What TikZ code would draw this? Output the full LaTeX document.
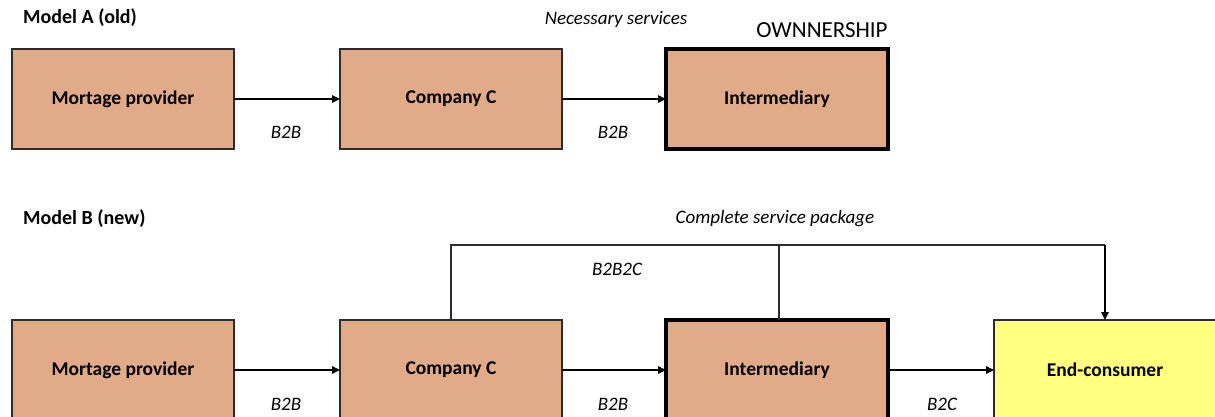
\documentclass[tikz,border=0pt]{standalone}
\usepackage{fontspec}
\setmainfont{Carlito}
\usetikzlibrary{arrows.meta}
\definecolor{tan}{RGB}{225,170,136}
\definecolor{lemon}{RGB}{255,255,128}
\definecolor{edge}{RGB}{45,45,45}
\tikzset{
  box/.style={draw=edge, line width=1.2pt, fill=tan, minimum width=222pt, minimum height=100pt,
    inner sep=0pt, outer sep=0pt, font=\fontsize{19.5}{22}\selectfont\bfseries},
  owner/.style={line width=4pt, draw=black},
  consumer/.style={fill=lemon},
  link/.style={draw=black, line width=1.2pt, -{Triangle[length=8pt,width=7.5pt]}},
  plain/.style={draw=edge, line width=1.2pt},
  tag/.style={font=\fontsize{19}{22}\selectfont\itshape, inner sep=0pt},
  heading/.style={font=\fontsize{20}{22}\selectfont\bfseries, anchor=west, inner sep=0pt},
}
\begin{document}
\begin{tikzpicture}[x=1pt, y=-1pt]
\useasboundingbox (0,0) rectangle (1215,416);
\clip (0,0) rectangle (1215,416);

% Model A
\node[heading] (ha) at (23,18) {Model A (old)};
\node[tag] (ns) at (616,19) {Necessary services};
\node[inner sep=0pt, font=\fontsize{23}{26}\selectfont] (own) at (822,30) {OWNNERSHIP};

\node[box] (mpA) at (123,99) {Mortage provider};
\node[box] (ccA) at (451,99) {Company C};
\node[box, owner] (imA) at (777,99) {Intermediary};

\draw[link] (mpA.east) -- (ccA.west);
\draw[link] (ccA.east) -- (imA.west);
\node[tag] (a1) at (286,132) {B2B};
\node[tag] (a2) at (613,132) {B2B};

% Model B
\node[heading] (hb) at (23,219) {Model B (new)};
\node[tag] (cs) at (775,219) {Complete service package};

\node[box] (mpB) at (123,370) {Mortage provider};
\node[box] (ccB) at (451,370) {Company C};
\node[box, owner] (imB) at (777,370) {Intermediary};
\node[box, consumer] (ecB) at (1105,370) {End-consumer};

\draw[link] (mpB.east) -- (ccB.west);
\draw[link] (ccB.east) -- (imB.west);
\draw[link] (imB.east) -- (ecB.west);
\node[tag] (b1) at (286,404) {B2B};
\node[tag] (b2) at (613,404) {B2B};
\node[tag] (b3) at (942,404) {B2C};

% service package path over the top
\coordinate (t1) at (451,245);
\coordinate (t2) at (1105,245);
\coordinate (t3) at (779,245);
\draw[plain] (ccB.north) -- (t1) -- (t2);
\draw[link] (t2) -- (ecB.north);
\draw[plain] (t3) -- (imB.north -| t3);
\node[tag] (b4) at (617,269) {B2B2C};
\end{tikzpicture}
\end{document}
